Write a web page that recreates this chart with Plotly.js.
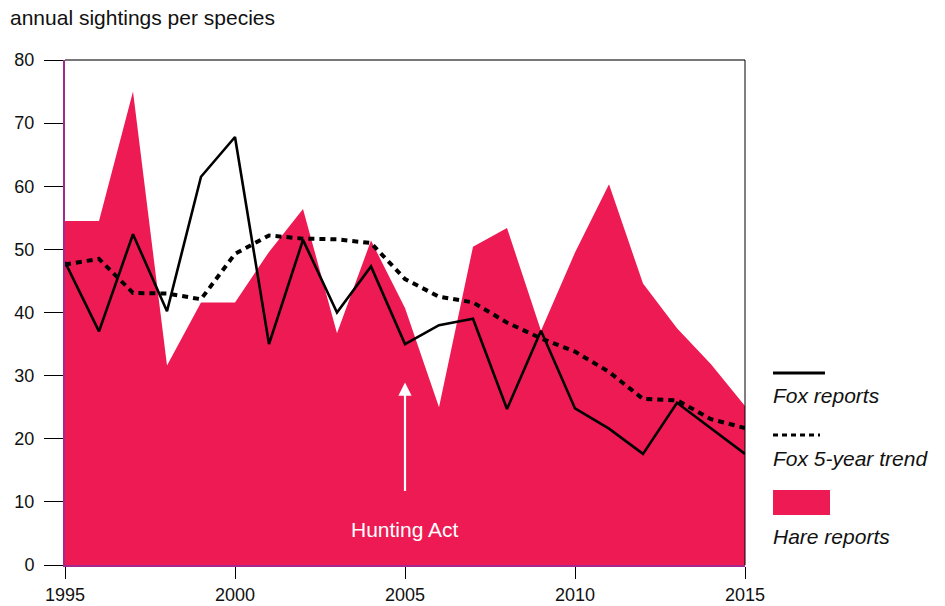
<!DOCTYPE html>
<html>
<head>
<meta charset="utf-8">
<script src="https://cdn.plot.ly/plotly-3.0.1.min.js"></script>
<style>html,body{margin:0;padding:0;background:#fff;}#chart{width:945px;height:606px;}</style>
</head>
<body>
<div id="chart"></div>
<script>
const years = [1995,1996,1997,1998,1999,2000,2001,2002,2003,2004,2005,2006,2007,2008,2009,2010,2011,2012,2013,2014,2015];
const hareReports = [54.5,54.5,75.0,31.6,41.6,41.6,49.6,56.4,36.7,51.4,40.7,25.0,50.4,53.4,37.1,49.5,60.3,44.6,37.5,31.8,25.2];
const foxReports = [48.0,37.0,52.4,40.2,61.5,67.8,35.0,51.5,40.0,47.3,35.0,38.0,39.0,24.7,37.1,24.8,21.6,17.6,25.7,21.6,17.6];
const foxTrend = [47.6,48.5,43.1,43.0,42.1,49.3,52.2,51.7,51.6,51.0,45.3,42.5,41.6,38.4,35.9,33.8,30.6,26.3,26.1,23.1,21.7];
const xTicks = [1995,2000,2005,2010,2015];
const yTicks = [0,10,20,30,40,50,60,70,80];
const seriesNames = ['Fox reports','Fox 5-year trend','Hare reports'];

const PINK = '#ED1A53';
const PURPLE = '#A3288F';
const FONT = 'Liberation Sans, Arial, Helvetica, sans-serif';

const traces = [
  {x: years, y: hareReports, type: 'scatter', mode: 'none', fill: 'tozeroy', fillcolor: PINK, name: seriesNames[2], hoverinfo: 'x+y'},
  {x: years, y: foxTrend, type: 'scatter', mode: 'lines', line: {color: '#000', width: 4, dash: '6px,5px'}, name: seriesNames[1]},
  {x: years, y: foxReports, type: 'scatter', mode: 'lines', line: {color: '#000', width: 2.6}, name: seriesNames[0]}
];

const layout = {
  width: 945, height: 606,
  margin: {l: 65, r: 200, t: 60, b: 41},
  paper_bgcolor: '#fff', plot_bgcolor: '#fff',
  showlegend: false,
  font: {family: FONT, size: 18, color: '#111'},
  xaxis: {
    range: [1995, 2015], tickvals: xTicks, ticktext: xTicks.map(String),
    showgrid: false, zeroline: false, showline: true, linecolor: PURPLE, linewidth: 2,
    ticks: 'outside', ticklen: 12, tickwidth: 1, tickcolor: '#000',
    tickfont: {family: FONT, size: 18, color: '#111'}
  },
  yaxis: {
    range: [0, 80], tickvals: yTicks, ticktext: yTicks.map(String),
    showgrid: false, zeroline: false, showline: true, linecolor: PURPLE, linewidth: 2,
    ticks: 'outside', ticklen: 19, tickwidth: 1, tickcolor: '#000',
    ticklabelstandoff: 6,
    tickfont: {family: FONT, size: 18, color: '#111'}
  },
  shapes: [
    {type: 'line', xref: 'paper', yref: 'paper', x0: 0, x1: 1, y0: 1, y1: 1, line: {color: '#777', width: 2}},
    {type: 'line', xref: 'paper', yref: 'paper', x0: 1, x1: 1, y0: 0, y1: 1, line: {color: '#000', width: 1}},
    {type: 'line', xref: 'paper', yref: 'paper', x0: 1.0412, x1: 1.1176, y0: 0.3802, y1: 0.3802, line: {color: '#000', width: 3}},
    {type: 'line', xref: 'paper', yref: 'paper', x0: 1.0412, x1: 1.1103, y0: 0.2574, y1: 0.2574, line: {color: '#000', width: 3, dash: '5px,4px'}},
    {type: 'rect', xref: 'paper', yref: 'paper', x0: 1.0412, x1: 1.1250, y0: 0.0990, y1: 0.1485, fillcolor: PINK, line: {width: 0}}
  ],
  annotations: [
    {xref: 'paper', yref: 'paper', x: -0.0806, y: 1.085, xanchor: 'left', yanchor: 'middle', xshift: -2,
     text: 'annual sightings per species', showarrow: false, font: {family: FONT, size: 21, color: '#111'}},
    {xref: 'paper', yref: 'paper', x: 1.0412, y: 0.3347, xanchor: 'left', yanchor: 'middle', xshift: -2,
     text: '<i>' + seriesNames[0] + '</i>', showarrow: false, font: {family: FONT, size: 21, color: '#111'}},
    {xref: 'paper', yref: 'paper', x: 1.0412, y: 0.2118, xanchor: 'left', yanchor: 'middle', xshift: -2,
     text: '<i>' + seriesNames[1] + '</i>', showarrow: false, font: {family: FONT, size: 21, color: '#111'}},
    {xref: 'paper', yref: 'paper', x: 1.0412, y: 0.0574, xanchor: 'left', yanchor: 'middle', xshift: -2,
     text: '<i>' + seriesNames[2] + '</i>', showarrow: false, font: {family: FONT, size: 21, color: '#111'}},
    {x: 2005, y: 28.9, xref: 'x', yref: 'y', ax: 2005, ay: 11.5, axref: 'x', ayref: 'y',
     showarrow: true, arrowhead: 2, arrowsize: 1.2, arrowwidth: 2.2, arrowcolor: '#fff', text: ''},
    {x: 2005, y: 5.6, xref: 'x', yref: 'y', text: 'Hunting Act', showarrow: false,
     font: {family: FONT, size: 21, color: '#fff'}}
  ]
};

Plotly.newPlot('chart', traces, layout, {displayModeBar: false, staticPlot: true});
</script>
</body>
</html>
